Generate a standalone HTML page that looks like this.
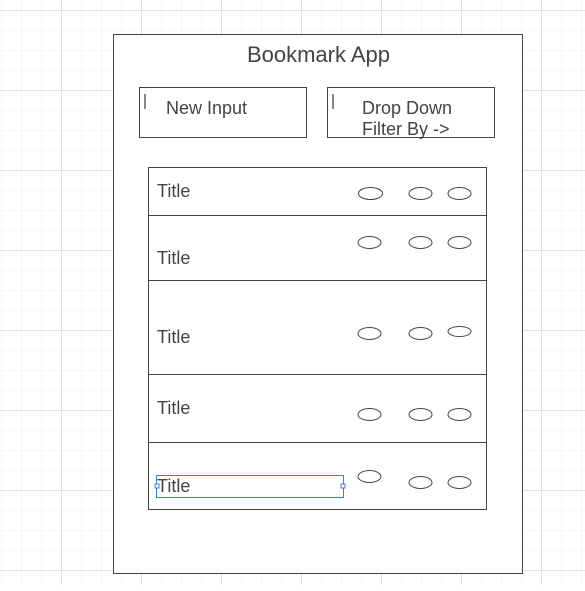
<!DOCTYPE html>
<html><head><meta charset="utf-8"><style>
html,body{margin:0;padding:0;background:#fff;}
svg{display:block;font-family:"Liberation Sans",sans-serif;}
</style></head><body>
<svg width="585" height="591" viewBox="0 0 585 591" xmlns="http://www.w3.org/2000/svg">
<defs>
<pattern id="g" x="1" y="10" width="20" height="20" patternUnits="userSpaceOnUse">
<path d="M0 0H20M0 0V20" stroke="#ececec" stroke-width="1" fill="none"/>
</pattern>
<pattern id="G" x="61" y="90" width="80" height="80" patternUnits="userSpaceOnUse">
<path d="M0 0.5H80M0.5 0V80" stroke="#e0e0e0" stroke-width="1" fill="none"/>
</pattern>
</defs>
<rect x="0" y="0" width="585" height="585" fill="url(#g)"/>
<rect x="0" y="0" width="585" height="585" fill="url(#G)"/>
<rect x="113.5" y="34.5" width="409" height="539" fill="#fff" stroke="#444"/>
<text x="318.5" y="62" font-size="22" fill="#444" text-anchor="middle">Bookmark App</text>
<rect x="139.5" y="87.5" width="167" height="50" fill="#fff" stroke="#444"/>
<rect x="144" y="94" width="2" height="15" fill="#888"/>
<text x="166" y="114" font-size="18" fill="#444">New Input</text>
<rect x="327.5" y="87.5" width="167" height="50" fill="#fff" stroke="#444"/>
<rect x="332" y="94" width="2" height="15" fill="#888"/>
<text x="362" y="114" font-size="18" fill="#444">Drop Down</text>
<text x="362" y="135" font-size="18" fill="#444">Filter By -&gt;</text>
<g fill="#fff" stroke="#444">
<rect x="148.5" y="167.5" width="338" height="48"/>
<rect x="148.5" y="215.5" width="338" height="65"/>
<rect x="148.5" y="280.5" width="338" height="94"/>
<rect x="148.5" y="374.5" width="338" height="68"/>
<rect x="148.5" y="442.5" width="338" height="67"/>
</g>
<g font-size="18" fill="#444">
<text x="157" y="197">Title</text>
<text x="157" y="264">Title</text>
<text x="157" y="343">Title</text>
<text x="157" y="414">Title</text>
<text x="157" y="492">Title</text>
</g>
<g fill="none" stroke="#444">
<ellipse cx="370.5" cy="193.5" rx="12" ry="6"/><ellipse cx="420.5" cy="193.5" rx="11.5" ry="6"/><ellipse cx="459.5" cy="193.5" rx="11.5" ry="6"/>
<ellipse cx="369.5" cy="242.5" rx="11.5" ry="6"/><ellipse cx="420.5" cy="242.5" rx="11.5" ry="6"/><ellipse cx="459.5" cy="242.5" rx="11.5" ry="6"/>
<ellipse cx="369.5" cy="333.5" rx="11.5" ry="6"/><ellipse cx="420.5" cy="333.5" rx="11.5" ry="6"/><ellipse cx="459.5" cy="331.5" rx="11.5" ry="5"/>
<ellipse cx="369.5" cy="414.5" rx="11.5" ry="6"/><ellipse cx="420.5" cy="414.5" rx="11.5" ry="6"/><ellipse cx="459.5" cy="414.5" rx="11.5" ry="6"/>
<ellipse cx="369.5" cy="476.5" rx="11.5" ry="6"/><ellipse cx="420.5" cy="482.5" rx="11.5" ry="6"/><ellipse cx="459.5" cy="482.5" rx="11.5" ry="6"/>
</g>
<rect x="156.5" y="475.5" width="187" height="22" fill="none" stroke="#3a7be0"/>
<rect x="155" y="484" width="4" height="4" fill="#fff" stroke="#3a7be0"/>
<rect x="341" y="484" width="4" height="4" fill="#fff" stroke="#3a7be0"/>
</svg>
</body></html>
